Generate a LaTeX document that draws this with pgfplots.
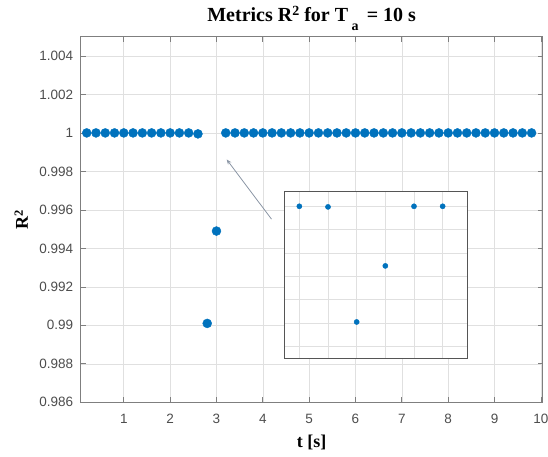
\documentclass[border=0pt]{standalone}
\usepackage{fontspec}
\setmainfont{Liberation Serif}
\setsansfont{Liberation Sans}
\usepackage{graphicx}
\usepackage{pgfplots}
\usepackage{pgfplotstable}
\pgfplotsset{compat=1.18}
\usetikzlibrary{arrows.meta}
\definecolor{mblue}{HTML}{0072BD}
\definecolor{gridc}{HTML}{E0E0E0}
\definecolor{axc}{HTML}{7F7F7F}
\definecolor{tickc}{HTML}{4D4D4D}
\definecolor{arrc}{HTML}{8C97A6}
\definecolor{insetc}{HTML}{555555}

\pgfplotstableread{
t r
0.2 1
0.4 1
0.6 1
0.8 1
1.0 1
1.2 1
1.4 1
1.6 1
1.8 1
2.0 1
2.2 1
2.4 1
2.6 0.99995
2.8 0.9901
3.0 0.9949
3.2 1
3.4 1
3.6 1
3.8 1
4.0 1
4.2 1
4.4 1
4.6 1
4.8 1
5.0 1
5.2 1
5.4 1
5.6 1
5.8 1
6.0 1
6.2 1
6.4 1
6.6 1
6.8 1
7.0 1
7.2 1
7.4 1
7.6 1
7.8 1
8.0 1
8.2 1
8.4 1
8.6 1
8.8 1
9.0 1
9.2 1
9.4 1
9.6 1
9.8 1
}\data

\begin{document}
\begin{tikzpicture}
\useasboundingbox (-80.7pt,-53.7pt) rectangle (467.3pt,402.3pt);
\begin{axis}[
  at={(0pt,0pt)}, anchor=south west,
  scale only axis, width=462pt, height=365.6pt,
  clip mode=individual,
  xmin=0.07, xmax=10.04, ymin=0.986, ymax=1.005,
  xtick={1,2,3,4,5,6,7,8,9,10},
  xticklabels={1,2,3,4,5,6,7,8,9,10},
  ytick={0.986,0.988,0.990,0.992,0.994,0.996,0.998,1.000,1.002,1.004},
  yticklabels={0.986,0.988,0.99,0.992,0.994,0.996,0.998,1,1.002,1.004},
  scaled y ticks=false, scaled x ticks=false,
  grid=major, major grid style={gridc, line width=0.6pt},
  axis line style={axc, line width=0.7pt},
  tick style={axc, line width=0.7pt}, major tick length=5pt, tick align=inside,
  tick label style={font=\sffamily\fontsize{13.5}{16}\selectfont, text=tickc},
  /pgf/number format/assume math mode=true,
  xticklabel style={anchor=base, yshift=-20.7pt},
  yticklabel style={anchor=east, inner sep=0pt, xshift=-7.4pt},
  title={Metrics R\raisebox{6pt}{\fontsize{14}{14}\selectfont 2} for T\,\raisebox{-9pt}{\fontsize{14}{14}\selectfont a}\, = 10 s},
  title style={at={(axis description cs:0.5,1.0265)}, anchor=base, font=\bfseries\fontsize{20}{24}\selectfont, inner sep=0pt},
  xlabel={t [s]},
  xlabel style={at={(axis description cs:0.5,-0.1223)}, anchor=base, font=\bfseries\fontsize{18}{20}\selectfont, inner sep=0pt},
]
\addplot[only marks, mark=*, mark size=4.5pt, color=mblue] table[x=t, y=r] {\data};
\draw[-{Stealth[length=5pt,width=4pt]}, arrc, line width=0.8pt] (axis cs:4.187,0.99552) -- (axis cs:3.22,0.99862);
\node[anchor=east, inner sep=0pt, font=\bfseries\fontsize{18}{20}\selectfont] at (axis description cs:-0.1141,0.5) {\rotatebox{90}{R\raisebox{5pt}{\fontsize{12.5}{13}\selectfont 2}}};
\end{axis}
\begin{axis}[
  at={(203.3pt,44pt)}, anchor=south west,
  scale only axis, width=183.3pt, height=166.6pt,
  xmin=2.293, xmax=3.572, ymin=0.98699, ymax=1.00125,
  xtick={2.4,2.6,2.8,3.0,3.2,3.4},
  ytick={0.988,0.990,0.992,0.994,0.996,0.998,1.000},
  xticklabels={}, yticklabels={},
  scaled y ticks=false, scaled x ticks=false,
  major tick length=0pt,
  grid=major, major grid style={gridc, line width=0.6pt},
  axis line style={insetc, line width=0.8pt},
  axis background/.style={fill=white},
]
\addplot[only marks, mark=*, mark size=2.6pt, color=mblue] table[x=t, y=r] {\data};
\end{axis}
\end{tikzpicture}
\end{document}
